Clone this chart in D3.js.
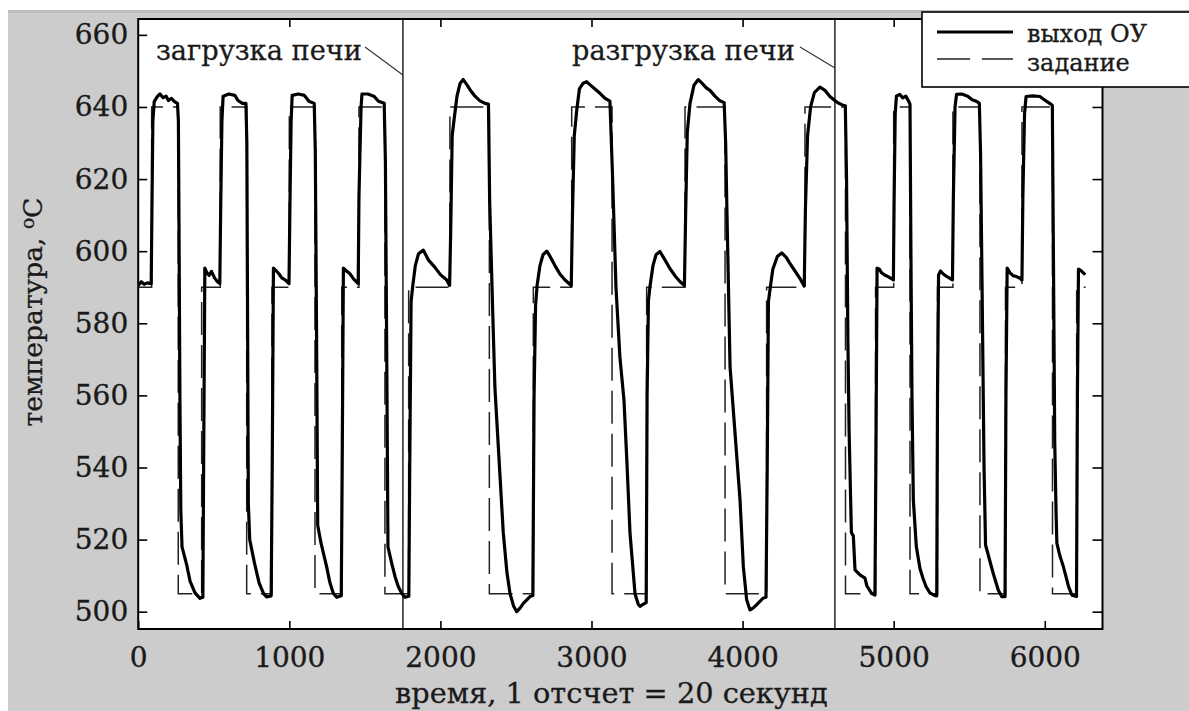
<!DOCTYPE html>
<html><head><meta charset="utf-8">
<script src="https://cdn.jsdelivr.net/npm/d3@7"></script>
<style>
html,body{margin:0;padding:0;background:#fff;}
svg{display:block;}
</style></head>
<body><svg id="chart" width="1189" height="711"></svg>
<script>
// ---------------- data ----------------
const xTicks = [0, 1000, 2000, 3000, 4000, 5000, 6000];
const yTicks = [500, 520, 540, 560, 580, 600, 620, 640, 660];
const xDomain = [0, 6382];
const yDomain = [495.2, 664.4];

// setpoint ("задание"): step changes (time of change) and level held after it
const setpointTimes = [0, 89, 265, 420, 543, 718, 885, 1000, 1170, 1347, 1461, 1633,
  1790, 2063, 2324, 2615, 2869, 3136, 3365, 3619, 3884, 4159, 4413,
  4681, 4880, 5000, 5108, 5290, 5392, 5571, 5740, 5849, 6051, 6211, 6270];
const setpointLevels = [590, 640, 505, 590, 640, 505, 590, 640, 505, 590, 640, 505,
  590, 640, 505, 590, 640, 505, 590, 640, 505, 590, 640,
  505, 590, 640, 505, 590, 640, 505, 590, 640, 505, 590];

// plant output ("выход ОУ"): [time, temperature]
const outputBeforeLoading = [
  [0,590.5],[20,591.5],[40,590.8],[60,591.2],[86,591],[91,612],[97,636],[106,641.5],[125,642.8],[144,643.6],[165,642.6],[185,643],[200,641.8],[220,642.4],[240,641.5],[260,641],
  [266,636],[271,600],[276,560],[282,528],[290,518],[321,513],[343,508.5],[376,505.2],[409,503.7],[428,504],
  [433,540],[441,595.3],[455,594],[470,593.3],[485,594.4],[505,592.6],[525,591.5],[540,591],
  [546,612],[554,636],[562,643],[600,643.6],[640,643.2],[660,641.8],[690,641],[713,641],
  [719,630],[724,580],[729,530],[738,520],[770,513.4],[800,508],[830,505],[850,504.1],[880,504.4],
  [887,540],[895,595.3],[912,594.6],[930,593.8],[950,592.6],[975,592],[998,591],
  [1004,612],[1012,636],[1019,643.2],[1060,643.6],[1100,643.2],[1130,641.6],[1165,641],
  [1172,628],[1180,580],[1188,524],[1210,519],[1247,512.5],[1269,508],[1291,505.1],[1314,504],[1344,504.4],
  [1350,540],[1358,595.3],[1375,594.6],[1400,593.8],[1425,592.3],[1456,591],
  [1461,615],[1467,626],[1475,640],[1481,643.6],[1520,643.6],[1560,643],[1590,641.6],[1628,641],
  [1636,625],[1645,570],[1653,518],[1678,513.4],[1700,509.7],[1721,507],[1744,505.1],[1766,504],[1791,504.3]
];
const outputLoaded = [
  [1797,540],[1806,586],[1817,590.3],[1834,596],[1855,599.3],[1887,600.3],[1920,597.6],[1964,595.5],[2000,593.5],[2042,592],[2061,590.5],
  [2068,605],[2078,632],[2092,637],[2110,643],[2130,646.5],[2151,647.6],[2175,646.2],[2196,644.8],[2229,643],[2262,641.7],[2295,641],[2318,640.8],
  [2326,614],[2345,585],[2361,562],[2394,538],[2416,522],[2440,511],[2461,505],[2485,501.5],[2505,500],[2527,501],[2549,502.3],[2593,504.2],[2612,504.5],
  [2620,560],[2630,585],[2640,590.5],[2659,596],[2679,599],[2704,600],[2725,598.6],[2758,596],[2792,593.6],[2825,592],[2866,590.5],
  [2874,610],[2886,632],[2902,639],[2920,645],[2945,646.6],[2968,647],[2995,646],[3023,645],[3056,643.8],[3090,642.4],[3122,641.6],
  [3140,620],[3162,590],[3188,570.7],[3215,558.7],[3235,541],[3255,521.7],[3288,505],[3310,502],[3321,501.5],[3341,502],[3362,502.5],
  [3368,560],[3377,586.4],[3388,590.5],[3407,596],[3427,599],[3453,599.9],[3486,597.6],[3519,595.2],[3552,593.2],[3585,591.6],[3615,590.5],
  [3623,610],[3634,633],[3652,641],[3678,646],[3707,647.6],[3731,646.6],[3760,645.3],[3784,644.6],[3817,643],[3850,641.7],[3878,641.2],
  [3888,630],[3896,612],[3917,568],[3950,549.5],[3983,531],[4005,512.5],[4027,503.3],[4049,500.5],[4069,501],[4092,501.9],[4116,502.9],[4137,503.8],[4155,504],
  [4163,540],[4171,586],[4185,590.5],[4200,595],[4230,598.5],[4259,599.5],[4290,598.2],[4313,596.6],[4347,594.5],[4380,592.4],[4408,590.3],
  [4416,612],[4430,632],[4450,640],[4475,644],[4512,645.5],[4545,644.6],[4578,642.9],[4610,641.8],[4633,641.1],[4664,640.5],[4680,640.3]
];
const outputAfterUnloading = [
  [4688,620],[4697,575],[4705,550],[4720,522],[4733,521],[4744,511.6],[4777,510.2],[4810,509.3],[4822,507.2],[4854,505.1],[4876,504.6],
  [4882,540],[4890,595.3],[4905,595],[4920,594],[4940,593.4],[4960,593],[4980,592.5],[4998,592],
  [5003,615],[5010,638],[5018,643],[5040,643.5],[5060,642.5],[5080,643],[5100,641.5],[5108,640.8],
  [5114,600],[5121,560],[5130,531],[5150,518],[5174,512],[5196,509],[5214,507],[5240,505.2],[5270,504.5],[5285,504.4],
  [5290,560],[5297,593.4],[5310,594.5],[5330,593.6],[5350,593],[5370,592.5],[5389,592],
  [5395,615],[5406,640],[5416,643.5],[5450,643.6],[5490,643],[5520,642],[5550,641.5],[5567,641],
  [5575,627],[5585,590],[5598,540],[5608,518.5],[5637,514],[5659,510.6],[5692,506],[5715,504.2],[5737,504.2],
  [5743,560],[5751,595.3],[5770,594],[5790,593.2],[5810,593],[5836,592.5],[5849,592],
  [5855,615],[5866,638],[5876,642.9],[5920,643.1],[5968,642.9],[6010,641.6],[6040,640.8],[6050,640.4],
  [6057,600],[6066,546.7],[6075,527],[6080,519],[6100,515.5],[6123,512.5],[6158,506.9],[6180,504.6],[6210,504.2],
  [6216,560],[6223,595],[6240,594.6],[6255,594],[6268,593.5]
];

const markerTimes = [1752, 4611];
const markerLabels = ["загрузка печи", "разгрузка печи"];
const seriesNames = ["выход ОУ", "задание"];
const xTitle = "время, 1 отсчет = 20 секунд";
const yTitleMain = "температура, ";
const yTitleSup = "o";
const yTitleUnit = "C";

// ---------------- layout ----------------
const W = 1189, H = 711;
const plot = {left: 138.2, right: 1102.5, top: 19, bottom: 629};
const FONT = "'DejaVu Serif', 'Liberation Serif', serif";
const INK = "#1a1a1a";

const svg = d3.select("#chart");

const x = d3.scaleLinear().domain(xDomain).range([plot.left, plot.right]);
const y = d3.scaleLinear().domain(yDomain).range([plot.bottom, plot.top]);

// backgrounds
svg.append("rect").attr("x", 0).attr("y", 0).attr("width", W).attr("height", H).attr("fill", "#ffffff");
svg.append("rect").attr("x", 8).attr("y", 10).attr("width", W - 8).attr("height", H - 10).attr("fill", "#cccccc");
svg.append("rect").attr("x", 8).attr("y", 10).attr("width", W - 8).attr("height", 3).attr("fill", "#bdbdbd");
svg.append("rect")
  .attr("x", plot.left).attr("y", plot.top)
  .attr("width", plot.right - plot.left).attr("height", plot.bottom - plot.top)
  .attr("fill", "#ffffff");

// clip
svg.append("clipPath").attr("id", "clip").append("rect")
  .attr("x", plot.left).attr("y", plot.top)
  .attr("width", plot.right - plot.left).attr("height", plot.bottom - plot.top);

const gData = svg.append("g").attr("clip-path", "url(#clip)");

// setpoint
const spPoints = setpointTimes.map((t, i) => [t, setpointLevels[Math.min(i, setpointLevels.length - 1)]]);
gData.append("path")
  .datum(spPoints)
  .attr("fill", "none")
  .attr("stroke", "#222")
  .attr("stroke-width", 1.5)
  .attr("stroke-dasharray", "33,10")
  .attr("d", d3.line().x(d => x(d[0])).y(d => y(d[1])).curve(d3.curveStepAfter));

// output
const outPoints = outputBeforeLoading.concat(outputLoaded, outputAfterUnloading);
gData.append("path")
  .datum(outPoints)
  .attr("fill", "none")
  .attr("stroke", "#000")
  .attr("stroke-width", 3.2)
  .attr("stroke-linejoin", "round")
  .attr("d", d3.line().x(d => x(d[0])).y(d => y(d[1])));

// marker lines
gData.selectAll("line.marker").data(markerTimes).enter().append("line")
  .attr("class", "marker")
  .attr("x1", d => x(d)).attr("x2", d => x(d))
  .attr("y1", plot.top).attr("y2", plot.bottom)
  .attr("stroke", "#000").attr("stroke-width", 1.3);

// axes
function styleAxis(g) {
  g.select(".domain").remove();
  g.selectAll(".tick line").attr("stroke", "#000").attr("stroke-width", 1.6);
  g.attr("font-family", FONT).attr("font-size", 28);
  g.selectAll(".tick text").attr("fill", INK).attr("stroke", INK).attr("stroke-width", 0.35);
}
svg.append("g").attr("transform", `translate(${plot.left},0)`)
  .call(d3.axisLeft(y).tickValues(yTicks).tickSize(-9).tickPadding(10).tickFormat(d3.format("d")))
  .call(styleAxis);
svg.append("g").attr("transform", `translate(${plot.right},0)`)
  .call(d3.axisRight(y).tickValues(yTicks).tickSize(-10).tickFormat(""))
  .call(styleAxis);
svg.append("g").attr("transform", `translate(0,${plot.bottom})`)
  .call(d3.axisBottom(x).tickValues(xTicks).tickSize(-8).tickPadding(18).tickFormat(d3.format("d")))
  .call(styleAxis);
svg.append("g").attr("transform", `translate(0,${plot.top})`)
  .call(d3.axisTop(x).tickValues(xTicks.filter(d => d > 0)).tickSize(-8).tickFormat(""))
  .call(styleAxis);

// frame
svg.append("rect")
  .attr("x", plot.left).attr("y", plot.top)
  .attr("width", plot.right - plot.left).attr("height", plot.bottom - plot.top)
  .attr("fill", "none").attr("stroke", "#000").attr("stroke-width", 2);

function fitWidth(sel, target) {
  const L = sel.node().getComputedTextLength();
  const fs = parseFloat(sel.attr("font-size"));
  if (L > 0) sel.attr("font-size", fs * target / L);
}
function inked(sel) { return sel.attr("fill", INK).attr("stroke", INK).attr("stroke-width", 0.3); }

// annotations
const ann1 = inked(svg.append("text").attr("x", 156).attr("y", 60)
  .attr("font-family", FONT).attr("font-size", 26)).text(markerLabels[0]);
fitWidth(ann1, 206);
const ann2 = inked(svg.append("text").attr("x", 572).attr("y", 60)
  .attr("font-family", FONT).attr("font-size", 26)).text(markerLabels[1]);
fitWidth(ann2, 223);
svg.append("line").attr("x1", 365).attr("y1", 47).attr("x2", x(markerTimes[0])).attr("y2", 75)
  .attr("stroke", "#333").attr("stroke-width", 1.1);
svg.append("line").attr("x1", 800).attr("y1", 47).attr("x2", x(markerTimes[1])).attr("y2", 68)
  .attr("stroke", "#333").attr("stroke-width", 1.1);

// x title
const xt = inked(svg.append("text").attr("x", 395).attr("y", 703)
  .attr("font-family", FONT).attr("font-size", 26)).text(xTitle);
fitWidth(xt, 433);

// y title
const yt = inked(svg.append("text")
  .attr("transform", "translate(42,312) rotate(-90)")
  .attr("text-anchor", "middle")
  .attr("font-family", FONT).attr("font-size", 26));
yt.append("tspan").text(yTitleMain);
yt.append("tspan").attr("font-size", "70%").attr("dy", "-0.45em").text(yTitleSup);
yt.append("tspan").attr("dy", "0.32em").text(yTitleUnit);
fitWidth(yt, 229);

// legend
const lg = svg.append("g");
lg.append("rect").attr("x", 922).attr("y", 12).attr("width", 280).attr("height", 75)
  .attr("fill", "#fff").attr("stroke", "#000").attr("stroke-width", 1.6);
lg.append("line").attr("x1", 937).attr("x2", 1013).attr("y1", 32).attr("y2", 32)
  .attr("stroke", "#000").attr("stroke-width", 3);
lg.append("line").attr("x1", 937).attr("x2", 1013).attr("y1", 59).attr("y2", 59)
  .attr("stroke", "#222").attr("stroke-width", 1.5).attr("stroke-dasharray", "33,12");
inked(lg.append("text").attr("x", 1027).attr("y", 42)
  .attr("font-family", FONT).attr("font-size", 24)).text(seriesNames[0]);
inked(lg.append("text").attr("x", 1027).attr("y", 71)
  .attr("font-family", FONT).attr("font-size", 24)).text(seriesNames[1]);
</script>
</body></html>
